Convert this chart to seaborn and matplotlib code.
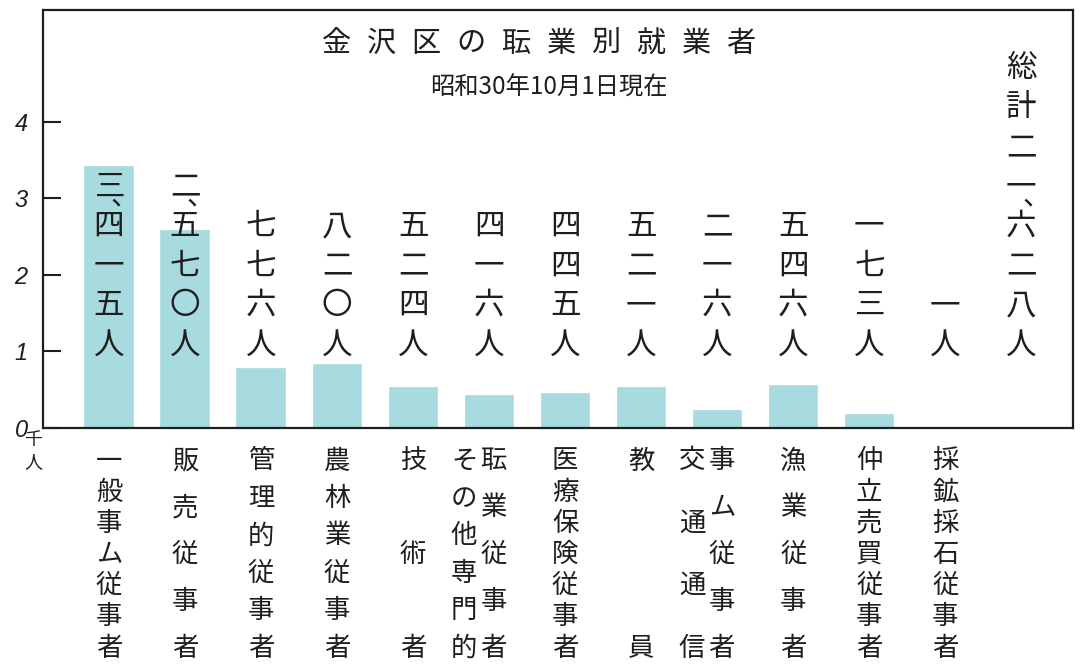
import matplotlib
matplotlib.use("Agg")
import matplotlib.pyplot as plt
import matplotlib.transforms as mtransforms
import pandas as pd
import seaborn as sns

# ---------------- data ----------------
categories = ["一般事ム従事者", "販売従事者", "管理的従事者", "農林業従事者", "技術者",
              "その他専門的耺業従事者", "医療保険従事者", "教員", "交通通信事ム従事者",
              "漁業従事者", "仲立売買従事者", "採鉱採石従事者"]
# vertical label columns (left to right) for each category
label_columns = [["一般事ム従事者"], ["販売従事者"], ["管理的従事者"], ["農林業従事者"],
                 ["技術者"], ["その他専門的", "耺業従事者"], ["医療保険従事者"], ["教員"],
                 ["交通通信", "事ム従事者"], ["漁業従事者"], ["仲立売買従事者"], ["採鉱採石従事者"]]
workers = [3415, 2570, 776, 820, 524, 416, 445, 521, 216, 546, 173, 1]
value_cells = [["三、", "四", "一", "五", "人"], ["二、", "五", "七", "〇", "人"],
               ["七", "七", "六", "人"], ["八", "二", "〇", "人"], ["五", "二", "四", "人"],
               ["四", "一", "六", "人"], ["四", "四", "五", "人"], ["五", "二", "一", "人"],
               ["二", "一", "六", "人"], ["五", "四", "六", "人"], ["一", "七", "三", "人"],
               ["一", "人"]]
total_cells = ["総", "計", "二", "一、", "六", "二", "八", "人"]
title_text = "金沢区の耺業別就業者"
subtitle_text = "昭和30年10月1日現在"
unit_cells = ["千", "人"]
yticks = [0, 1, 2, 3, 4]

# ---------------- style ----------------
W, H = 1081, 671
BAR = "#a7dbdf"
INK = "#1e1e1e"
sns.set_theme(style="white")
plt.rcParams["font.family"] = ["Noto Sans CJK JP", "DejaVu Sans"]

df = pd.DataFrame({"cat": categories, "thousand": [w / 1000 for w in workers]})

fig = plt.figure(figsize=(W / 100, H / 100), dpi=100)
fig.patch.set_facecolor("white")
ax = fig.add_axes([43 / W, 1 - 428 / H, (1073 - 43) / W, (428 - 10) / H])

sns.barplot(data=df, x="cat", y="thousand", order=categories, color=BAR,
            saturation=1, width=0.62, errorbar=None, edgecolor=BAR,
            linewidth=1.2, ax=ax)

ax.set_xlim(-0.868, 12.68)
ax.set_ylim(0, 5.46)
ax.set_xticks([])
ax.set_xlabel("")
ax.set_ylabel("")
ax.set_yticks(yticks)
ax.set_yticklabels([str(t) for t in yticks])
ax.tick_params(axis="y", direction="in", length=13, width=1.5, pad=11,
               labelsize=17, colors=INK, left=True)
for lab in ax.get_yticklabels():
    lab.set_fontstyle("italic")
    lab.set_family("Liberation Sans")
for s in ax.spines.values():
    s.set_visible(True)
    s.set_color(INK)
    s.set_linewidth(1.6)


def fy(p):
    return 1 - p / H


trans = mtransforms.blended_transform_factory(ax.transData, fig.transFigure)

# value labels (vertical) above / inside bars, plus the total column
STEP = 39.5
for i, cells in enumerate(value_cells + [total_cells]):
    n = len(cells)
    for k, c in enumerate(cells):
        y = 345 - (n - 1 - k) * STEP
        ax.text(i, fy(y), c[0], transform=trans, ha="center", va="center",
                fontsize=22, color=INK, clip_on=False)
        if len(c) > 1:
            ax.text(i + 0.2, fy(y + 9), c[1:], transform=trans, ha="center",
                    va="center", fontsize=20, color=INK, clip_on=False)

# category labels (vertical, justified) under the axis
for i, cols in enumerate(label_columns):
    offs = [0.0] if len(cols) == 1 else [-0.33, 0.06]
    for col, off in zip(cols, offs):
        n = len(col)
        for k, ch in enumerate(col):
            y = 461 + k * (187 / (n - 1)) if n > 1 else 461
            ax.text(i + off, fy(y), ch, transform=trans, ha="center",
                    va="center", fontsize=19, color=INK, clip_on=False)

# title, spaced characters
for k, ch in enumerate(title_text):
    fig.text((336 + k * 45) / W, fy(44), ch, ha="center", va="center",
             fontsize=21, color=INK)
fig.text(549 / W, fy(88), subtitle_text, ha="center", va="center",
         fontsize=17.5, color=INK)

# unit under the zero
for k, ch in enumerate(unit_cells):
    fig.text(33 / W, fy(440 + k * 22), ch, ha="center", va="center",
             fontsize=13, color=INK)

fig.savefig("out.png", dpi=100, facecolor="white")
